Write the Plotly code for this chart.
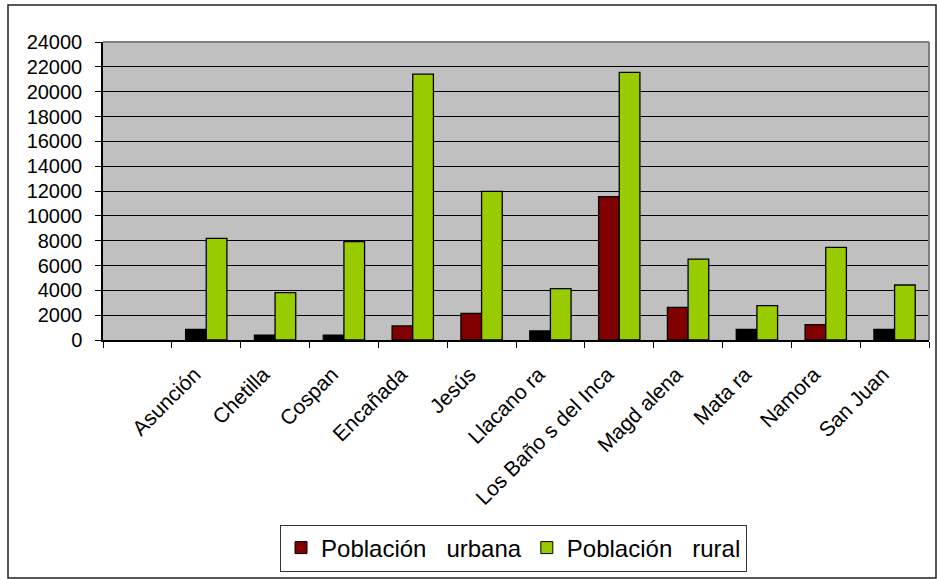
import plotly.graph_objects as go

categories = ["Asunción", "Chetilla", "Cospan", "Encañada", "Jesús", "Llacano ra",
              "Los Baño s del Inca", "Magd alena", "Mata ra", "Namora", "San Juan"]
urbana = [860, 400, 400, 1130, 2150, 725, 11540, 2630, 860, 1235, 860]
rural = [8190, 3810, 7920, 21420, 11975, 4135, 21560, 6520, 2765, 7460, 4430]
y_ticks = list(range(0, 24001, 2000))

# positions: first category slot is empty in the original chart
xpos = [i + 1 for i in range(len(categories))]

RED = "#800000"
GREEN = "#99CC00"
# small urban bars render black in the reference
urban_colors = ["#000000" if v < 1000 else RED for v in urbana]

fig = go.Figure()
fig.add_trace(go.Bar(x=xpos, y=urbana, name="urbana", showlegend=False,
                     marker=dict(color=urban_colors, line=dict(color="#000000", width=1.3)),
                     width=0.3, offset=-0.3))
fig.add_trace(go.Bar(x=xpos, y=rural, name="rural", showlegend=False,
                     marker=dict(color=GREEN, line=dict(color="#000000", width=1.3)),
                     width=0.3, offset=0))
# legend entries
fig.add_trace(go.Bar(x=[None], y=[None], name="Población\u00a0\u00a0 urbana",
                     marker=dict(color=RED, line=dict(color="#000000", width=1))))
fig.add_trace(go.Bar(x=[None], y=[None], name="Población\u00a0\u00a0 rural",
                     marker=dict(color=GREEN, line=dict(color="#000000", width=1))))

font = "Liberation Sans, Arial, sans-serif"
fig.update_layout(
    width=937, height=579,
    margin=dict(l=103, r=8, t=42, b=239),
    barmode="overlay",
    paper_bgcolor="white",
    plot_bgcolor="#C0C0C0",
    font=dict(family=font, color="black", size=18),
    showlegend=True,
    legend=dict(orientation="h", x=0.497, y=-0.698, xanchor="center", yanchor="middle",
                bgcolor="white", bordercolor="#333333", borderwidth=1,
                font=dict(size=24, family=font), itemwidth=30, tracegroupgap=0),
    xaxis=dict(range=[-0.5, 11.5], tickmode="array", tickvals=[x - 0.17 for x in xpos],
               ticktext=categories,
               tickangle=-45, ticks="", showgrid=False, zeroline=False,
               showline=True, linecolor="black", linewidth=1.5,
               tickfont=dict(size=21, family=font), ticklabelstandoff=12,
               minor=dict(tickmode="array", tickvals=[i - 0.5 for i in range(13)],
                          ticks="outside", ticklen=6, tickcolor="black", showgrid=False)),
    yaxis=dict(range=[0, 24000], tickmode="array", tickvals=y_ticks,
               ticktext=[str(v) for v in y_ticks],
               ticks="outside", ticklen=6, tickcolor="black",
               showgrid=True, gridcolor="black", gridwidth=1, zeroline=False,
               showline=True, linecolor="black", linewidth=1.5,
               tickfont=dict(size=20, family=font), ticklabelstandoff=9),
    shapes=[
        dict(type="line", xref="paper", yref="paper", x0=1, x1=1, y0=0, y1=1,
             line=dict(color="#808080", width=2)),
        dict(type="line", xref="paper", yref="paper", x0=0, x1=1, y0=1, y1=1,
             line=dict(color="#808080", width=2)),
        dict(type="rect", xref="paper", yref="paper",
             x0=(8 - 103) / 826, x1=(936 - 103) / 826,
             y0=(340 - 578) / 298, y1=(340 - 5) / 298,
             line=dict(color="#222222", width=1.5)),
    ],
)

fig.write_html("out.html", config={"displayModeBar": False},
               post_script="document.body.style.margin='0px';")
